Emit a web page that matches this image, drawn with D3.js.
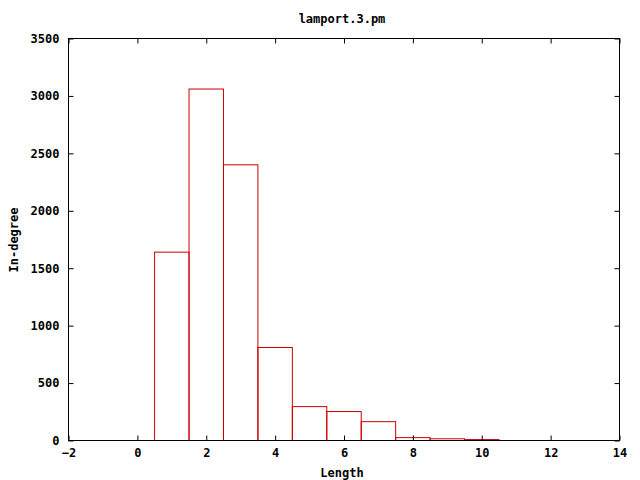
<!DOCTYPE html>
<html><head><meta charset="utf-8">
<script src="https://cdn.jsdelivr.net/npm/d3@7"></script>
<style>body{margin:0;background:#fff}text{font-family:"DejaVu Sans Mono",monospace;font-weight:bold;font-size:12px;fill:#000}</style>
</head><body>
<script>
const lengths = [1,2,3,4,5,6,7,8,9,10];
const inDegree = [1640,3060,2400,810,295,252,164,25,15,8];
const xTicks = [-2,0,2,4,6,8,10,12,14];
const yTicks = [0,500,1000,1500,2000,2500,3000,3500];
const title = "lamport.3.pm", xLabel = "Length", yLabel = "In-degree";

const W=640,H=480, L=68.5,R=619.5,T=38.5,B=440.5;
const svg=d3.select("body").append("svg").attr("width",W).attr("height",H);
const x=d3.scaleLinear().domain([-2,14]).range([L,R]);
const y=d3.scaleLinear().domain([0,3500]).range([B,T]);
const tl=5;
// bars
svg.append("g").selectAll("rect").data(lengths).join("rect")
 .attr("x",d=>x(d-0.5)).attr("width",d=>x(d+0.5)-x(d-0.5))
 .attr("y",(d,i)=>y(inDegree[i])).attr("height",(d,i)=>B-y(inDegree[i]))
 .attr("fill","none").attr("stroke","#cc0000").attr("stroke-width",1);
// axes
const ax=svg.append("g");
ax.append("g").attr("transform",`translate(0,${B})`).call(d3.axisBottom(x).tickValues(xTicks).tickFormat(d3.format("d")).tickSizeInner(-tl).tickSizeOuter(0).tickPadding(8));
ax.append("g").attr("transform",`translate(0,${T})`).call(d3.axisTop(x).tickValues(xTicks).tickSizeInner(-tl).tickSizeOuter(0).tickFormat(""));
ax.append("g").attr("transform",`translate(${L},0)`).call(d3.axisLeft(y).tickValues(yTicks).tickFormat(d3.format("d")).tickSizeInner(-tl).tickSizeOuter(0).tickPadding(9));
ax.append("g").attr("transform",`translate(${R},0)`).call(d3.axisRight(y).tickValues(yTicks).tickSizeInner(-tl).tickSizeOuter(0).tickFormat(""));
ax.selectAll(".domain").remove();
ax.selectAll("line").attr("stroke","#000");
ax.selectAll("text").attr("font-family",null).attr("font-size",null);
svg.append("rect").attr("x",L).attr("y",T).attr("width",R-L).attr("height",B-T).attr("fill","none").attr("stroke","#000");
svg.append("text").attr("x",342).attr("y",23).attr("text-anchor","middle").text(title);
svg.append("text").attr("x",342).attr("y",477).attr("text-anchor","middle").text(xLabel);
svg.append("text").attr("transform","translate(18,240) rotate(-90)").attr("text-anchor","middle").text(yLabel);
</script>
</body></html>
